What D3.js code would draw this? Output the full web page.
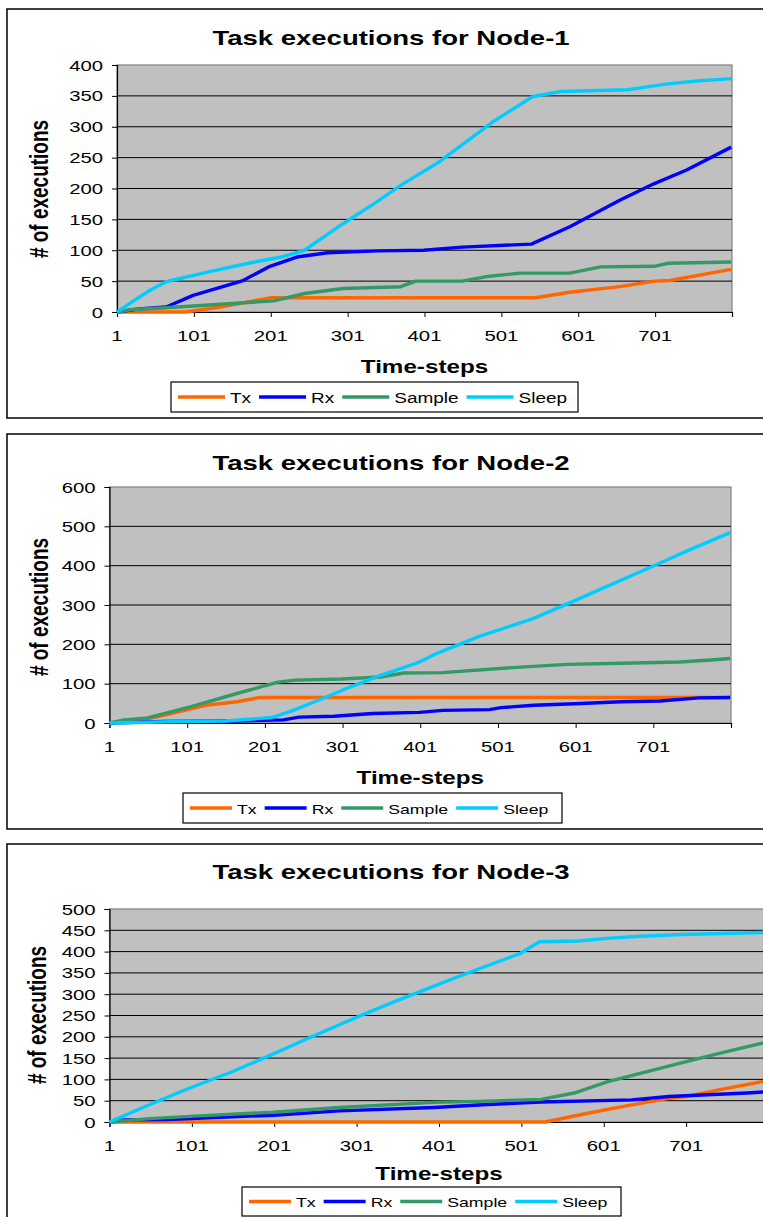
<!DOCTYPE html>
<html>
<head>
<meta charset="utf-8">
<script src="https://cdn.jsdelivr.net/npm/d3@7"></script>
<style>
  body { margin: 0; background: #fff; }
  svg { display: block; }
</style>
</head>
<body>
<div id="chart"></div>
<script>
// series names / colours
const seriesNames = ["Tx", "Rx", "Sample", "Sleep"];
const seriesColors = ["#FF6600", "#0000FF", "#339966", "#00CCFF"];
const xTicks = [1, 101, 201, 301, 401, 501, 601, 701];

// Node-1  [time-step, # of executions]
const node1Tx = [[1,0],[90,0],[140,9],[200,23],[545,23],[590,32],[655,41],[700,50],[720,51],[800,69]];
const node1Rx = [[1,0],[30,5],[65,8],[100,27],[165,51],[200,74],[235,89],[275,96],[340,99],[400,100],[450,105],[540,110],[590,138],[655,181],[700,208],[742,230],[800,267]];
const node1Sample = [[1,0],[20,4],[65,7],[115,11],[205,18],[245,30],[295,38],[370,41],[390,50],[450,50],[480,57],[525,63],[590,63],[630,73],[700,74],[718,79],[800,81]];
const node1Sleep = [[1,0],[25,20],[45,36],[65,49],[120,65],[180,81],[215,89],[245,100],[295,143],[335,175],[370,205],[420,243],[490,308],[542,349],[577,357],[665,360],[715,369],[755,374],[800,378]];

// Node-2
const node2Tx = [[1,0],[45,8],[80,24],[125,45],[165,54],[195,65],[800,65]];
const node2Rx = [[1,0],[70,4],[160,5],[225,8],[245,15],[290,17],[340,24],[400,27],[430,32],[490,34],[505,39],[547,45],[600,49],[660,54],[710,56],[760,64],[800,65]];
const node2Sample = [[1,0],[20,8],[50,13],[105,41],[165,75],[218,104],[240,109],[300,112],[350,117],[380,127],[430,128],[512,140],[590,149],[660,152],[735,155],[775,160],[800,164]];
const node2Sleep = [[1,0],[80,3],[150,5],[210,14],[235,30],[280,66],[305,87],[350,121],[400,155],[420,175],[478,221],[547,266],[602,313],[701,399],[752,444],[800,484]];

// Node-3
const node3Tx = [[1,0],[530,0],[580,20],[620,35],[678,55],[702,60],[742,76],[800,97]];
const node3Rx = [[1,0],[20,5],[70,6],[100,8],[200,16],[280,26],[395,34],[460,41],[525,47],[635,52],[680,60],[775,68],[800,71]];
const node3Sample = [[1,0],[50,8],[115,15],[200,23],[280,34],[395,46],[460,49],[525,53],[565,68],[605,94],[700,141],[750,165],[800,188]];
const node3Sleep = [[1,0],[50,41],[100,81],[150,118],[200,160],[245,199],[300,245],[350,285],[395,319],[420,338],[500,396],[523,423],[570,425],[605,431],[645,436],[695,440],[800,445]];

const SX = 1.31; // the source picture is stretched horizontally
const FONT = "'Liberation Sans', Arial, sans-serif";

const panels = [
  {title: "Task executions for Node-1", yMax: 400, yStep: 50,
   series: [node1Tx, node1Rx, node1Sample, node1Sleep],
   frame: {x: 7, y: 9, w: 768, h: 409},
   plot: {x0: 117, x1: 732, y0: 65, y1: 312},
   titleY: 45, xLabelY: 373, yLabelX: 48, yLabelY: 189,
   legend: {x: 171, y: 382, w: 407, h: 30, line: 47, font: 14.5}},
  {title: "Task executions for Node-2", yMax: 600, yStep: 100,
   series: [node2Tx, node2Rx, node2Sample, node2Sleep],
   frame: {x: 7, y: 434, w: 768, h: 395},
   plot: {x0: 109.5, x1: 731, y0: 487, y1: 723},
   titleY: 470, xLabelY: 784, yLabelX: 48, yLabelY: 607,
   legend: {x: 183, y: 793, w: 379, h: 30, line: 42, font: 13.5}},
  {title: "Task executions for Node-3", yMax: 500, yStep: 50,
   series: [node3Tx, node3Rx, node3Sample, node3Sleep],
   frame: {x: 7, y: 844, w: 768, h: 400},
   plot: {x0: 109.5, x1: 768.5, y0: 909, y1: 1122},
   titleY: 879, xLabelY: 1180, yLabelX: 46, yLabelY: 1015,
   legend: {x: 242, y: 1187, w: 379, h: 29, line: 42, font: 13.5}}
];

const svg = d3.select("#chart").append("svg")
  .attr("width", 763)
  .attr("height", 1217);

function stext(g, x, y, txt, size, weight, anchor, rotate) {
  return g.append("text")
    .attr("transform", `translate(${x},${y}) scale(${SX},1)` + (rotate ? " rotate(-90)" : ""))
    .attr("text-anchor", anchor)
    .style("font-family", FONT)
    .style("font-size", size + "px")
    .style("font-weight", weight)
    .attr("fill", "#000")
    .text(txt);
}

panels.forEach(p => {
  const g = svg.append("g");

  // outer frame
  g.append("rect")
    .attr("x", p.frame.x).attr("y", p.frame.y)
    .attr("width", p.frame.w).attr("height", p.frame.h)
    .attr("fill", "#fff").attr("stroke", "#000").attr("stroke-width", 1.5);

  const x = d3.scaleLinear().domain([1, 801]).range([p.plot.x0, p.plot.x1]);
  const y = d3.scaleLinear().domain([0, p.yMax]).range([p.plot.y1, p.plot.y0]);

  // plot area
  g.append("rect")
    .attr("x", x(1)).attr("y", y(p.yMax))
    .attr("width", x(801) - x(1)).attr("height", y(0) - y(p.yMax))
    .attr("fill", "#C0C0C0").attr("stroke", "#808080").attr("stroke-width", 1.2);

  const yTicks = d3.range(0, p.yMax + 1, p.yStep);

  // grid lines
  g.append("g").selectAll("line")
    .data(yTicks.filter(v => v > 0 && v < p.yMax))
    .join("line")
    .attr("x1", x(1)).attr("x2", x(801))
    .attr("y1", d => y(d)).attr("y2", d => y(d))
    .attr("stroke", "#000").attr("stroke-width", 1);

  // axes
  const yAxis = g.append("g")
    .attr("transform", `translate(${x(1)},0)`)
    .call(d3.axisLeft(y).tickValues(yTicks).tickSize(5).tickFormat(""));
  const xAxis = g.append("g")
    .attr("transform", `translate(0,${y(0)})`)
    .call(d3.axisBottom(x).tickValues(xTicks.concat([801])).tickSize(5).tickFormat(""));
  [yAxis, xAxis].forEach(a => {
    a.select(".domain").attr("stroke", "#000").attr("stroke-width", 1.2);
    a.selectAll(".tick line").attr("stroke", "#000");
  });

  // tick labels
  yTicks.forEach(v => stext(g, x(1) - 14, y(v) + 5.5, v, 15.5, 400, "end"));
  xTicks.forEach(v => stext(g, x(v), y(0) + 29, v, 15.5, 400, "middle"));

  // lines
  const line = d3.line().x(d => x(d[0])).y(d => y(d[1]));
  p.series.forEach((s, i) => {
    g.append("path")
      .datum(s)
      .attr("d", line)
      .attr("fill", "none")
      .attr("stroke", seriesColors[i])
      .attr("stroke-width", 3.4)
      .attr("stroke-linejoin", "round");
  });

  // titles
  stext(g, 391, p.titleY, p.title, 21, 700, "middle");
  stext(g, (p.plot.x0 + p.plot.x1) / 2, p.xLabelY, "Time-steps", 18.5, 700, "middle");
  stext(g, p.yLabelX, p.yLabelY, "# of executions", 19, 700, "middle", true);

  // legend
  const L = p.legend;
  const lg = g.append("g");
  lg.append("rect")
    .attr("x", L.x).attr("y", L.y).attr("width", L.w).attr("height", L.h)
    .attr("fill", "#fff").attr("stroke", "#000").attr("stroke-width", 1.2);
  let cx = L.x + 7;
  const cy = L.y + L.h / 2;
  seriesNames.forEach((name, i) => {
    lg.append("line")
      .attr("x1", cx).attr("x2", cx + L.line)
      .attr("y1", cy).attr("y2", cy)
      .attr("stroke", seriesColors[i]).attr("stroke-width", 3.4);
    const t = stext(lg, cx + L.line + 5, cy + 5.5, name, L.font, 400, "start");
    cx = cx + L.line + 5 + t.node().getComputedTextLength() * SX + 8;
  });
});
</script>
</body>
</html>
